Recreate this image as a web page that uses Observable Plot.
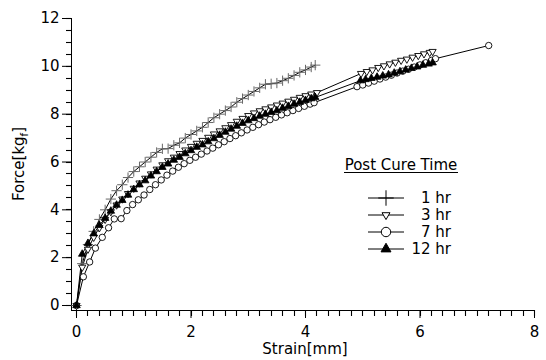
<!DOCTYPE html>
<html><head><meta charset="utf-8">
<script src="https://cdn.jsdelivr.net/npm/d3@7"></script>
<script src="https://cdn.jsdelivr.net/npm/@observablehq/plot@0.6"></script>
<style>body{margin:0;background:#fff}</style>
</head><body><div id="chart"></div>
<script>
const seriesNames = ["1 hr", "3 hr", "7 hr", "12 hr"];
const legendTitle = "Post Cure Time";
const xLabel = "Strain[mm]";
const xTicks = [0, 2, 4, 6, 8];
const yTicks = [0, 2, 4, 6, 8, 10, 12];

const strain1hr = [0,0.1,0.2,0.3,0.4,0.5,0.6,0.7,0.8,0.9,1.0,1.1,1.2,1.3,1.4,1.5,1.6,1.7,1.8,1.9,2.0,2.1,2.2,2.3,2.4,2.5,2.6,2.7,2.8,2.9,3.0,3.1,3.2,3.3,3.4,3.5,3.6,3.7,3.8,3.9,4.0,4.1,4.17];
const force1hr  = [0,1.75,2.55,3.1,3.6,4.0,4.45,4.8,5.05,5.35,5.6,5.8,6.0,6.2,6.4,6.55,6.56,6.7,6.8,7.0,7.15,7.3,7.45,7.65,7.85,8.0,8.15,8.3,8.5,8.65,8.8,8.95,9.1,9.25,9.27,9.3,9.4,9.5,9.62,9.75,9.85,9.97,10.05];

const strain3hr = [0,0.1,0.2,0.3,0.4,0.5,0.6,0.7,0.8,0.9,1.0,1.1,1.2,1.3,1.4,1.5,1.6,1.7,1.8,1.9,2.0,2.1,2.2,2.3,2.4,2.5,2.6,2.7,2.8,2.9,3.0,3.1,3.2,3.3,3.4,3.5,3.6,3.7,3.8,3.9,4.0,4.1,4.2,
  4.97,5.07,5.17,5.27,5.37,5.47,5.57,5.67,5.77,5.87,5.97,6.07,6.17,6.22];
const force3hr  = [0,1.6,2.35,2.85,3.25,3.6,3.92,4.2,4.45,4.68,4.9,5.12,5.32,5.5,5.7,5.88,6.05,6.2,6.35,6.5,6.65,6.78,6.9,7.03,7.17,7.3,7.43,7.56,7.7,7.82,7.94,8.05,8.14,8.22,8.3,8.38,8.46,8.54,8.62,8.7,8.77,8.84,8.9,
  9.7,9.78,9.85,9.95,10.02,10.1,10.17,10.25,10.3,10.38,10.45,10.52,10.58,10.62];

const strain7hr = [0,0.12,0.23,0.33,0.45,0.56,0.66,0.78,0.88,0.98,1.08,1.18,1.28,1.38,1.48,1.58,1.68,1.78,1.88,1.98,2.08,2.18,2.28,2.38,2.48,2.58,2.68,2.78,2.88,2.98,3.08,3.18,3.28,3.38,3.48,3.58,3.68,3.78,3.88,3.98,4.08,4.15,
  4.9,5.0,5.1,5.2,5.3,5.4,5.5,5.6,5.7,5.8,5.9,6.0,6.1,6.2,6.27,7.2];
const force7hr  = [0,1.2,1.82,2.4,2.85,3.25,3.62,3.63,3.97,4.22,4.42,4.62,4.85,5.05,5.25,5.45,5.62,5.78,5.93,6.07,6.2,6.33,6.46,6.58,6.72,6.85,6.98,7.1,7.22,7.34,7.45,7.56,7.67,7.77,7.87,7.97,8.06,8.15,8.24,8.33,8.42,8.48,
  9.15,9.22,9.3,9.38,9.47,9.55,9.63,9.72,9.8,9.88,9.97,10.06,10.15,10.25,10.32,10.87];

const strain12hr = [0,0.1,0.2,0.3,0.4,0.5,0.6,0.7,0.8,0.9,1.0,1.1,1.2,1.3,1.4,1.5,1.6,1.7,1.8,1.9,2.0,2.1,2.2,2.3,2.4,2.5,2.6,2.7,2.8,2.9,3.0,3.1,3.2,3.3,3.4,3.5,3.6,3.7,3.8,3.9,4.0,4.1,4.17,
  4.96,5.05,5.15,5.25,5.35,5.45,5.55,5.65,5.75,5.85,5.95,6.05,6.15,6.22];
const force12hr  = [0,2.15,2.6,3.0,3.35,3.65,3.95,4.2,4.4,4.62,4.85,5.05,5.22,5.42,5.6,5.78,5.92,6.08,6.2,6.35,6.48,6.62,6.72,6.85,6.98,7.12,7.25,7.38,7.5,7.62,7.73,7.82,7.92,8.0,8.08,8.15,8.25,8.33,8.42,8.5,8.58,8.65,8.7,
  9.4,9.45,9.5,9.55,9.6,9.65,9.72,9.78,9.85,9.92,9.98,10.05,10.1,10.15];

function rowsOf(name, xs, ys) { return xs.map((x, i) => ({series: name, strain: x, force: ys[i]})); }
const d1 = rowsOf(seriesNames[0], strain1hr, force1hr);
const d3h = rowsOf(seriesNames[1], strain3hr, force3hr);
const d7 = rowsOf(seriesNames[2], strain7hr, force7hr);
const d12 = rowsOf(seriesNames[3], strain12hr, force12hr);
const all = [...d1, ...d3h, ...d7, ...d12];

const triangleDown = {
  draw(ctx, size) {
    const r = Math.sqrt(size - Math.min(size / 6, 1.7)) * 0.6824;
    const t = r / 2, u = r * Math.sqrt(3) / 2;
    ctx.moveTo(0, r); ctx.lineTo(u, -t); ctx.lineTo(-u, -t); ctx.closePath();
  }
};

const FONT = "DejaVu Sans";
const xMinor = [];
for (let i = 0; i <= 40; i++) xMinor.push(i / 5);
const yMinor = [];
for (let i = 0; i <= 24; i++) yMinor.push(i / 2);

const chart = Plot.plot({
  width: 546, height: 360,
  marginLeft: 71, marginRight: 12, marginTop: 18, marginBottom: 50,
  style: {fontFamily: FONT, fontSize: "15px", background: "white", color: "black"},
  x: {domain: [0, 8], insetLeft: 5},
  y: {domain: [0, 12], insetBottom: 5},
  marks: [
    Plot.frame({anchor: "left", stroke: "black"}),
    Plot.frame({anchor: "bottom", stroke: "black"}),
    Plot.axisX(xTicks, {anchor: "bottom", tickSize: 8, tickPadding: 8, label: null}),
    Plot.axisY(yTicks, {anchor: "left", tickSize: 9, tickPadding: 3, label: null}),
    Plot.line(all, {x: "strain", y: "force", z: "series", stroke: "black", strokeWidth: 1}),
    Plot.dot(d1, {x: "strain", y: "force", symbol: "plus", r: 3.4, stroke: "#666", strokeWidth: 1}),
    Plot.dot(d7, {x: "strain", y: "force", symbol: "circle", r: 3.2, stroke: "black", fill: "white", strokeWidth: 0.9}),
    Plot.dot(d3h, {x: "strain", y: "force", symbol: triangleDown, r: 3.5, stroke: "black", fill: "white", strokeWidth: 0.9}),
    Plot.dot(d12, {x: "strain", y: "force", symbol: "triangle", r: 2.8, stroke: "black", fill: "black", strokeWidth: 0.8})
  ]
});
document.getElementById("chart").appendChild(chart);

const sx = chart.scale("x"), sy = chart.scale("y");
const svg = d3.select(chart);
// minor ticks placed with Plot's own scales
const axisX0 = 310, axisY0 = 71;
const tk = svg.append("g");
xMinor.forEach(v => { const px = Math.round(sx.apply(v)) + 0.5; tk.append("line").attr("x1", px).attr("x2", px).attr("y1", axisX0).attr("y2", axisX0 + 6).style("stroke", "#000").style("stroke-width", "1.1px"); });
yMinor.forEach(v => { const py = Math.round(sy.apply(v)) + 0.5; tk.append("line").attr("y1", py).attr("y2", py).attr("x1", axisY0 - 5).attr("x2", axisY0).style("stroke", "#000").style("stroke-width", "1.1px"); });

const g = svg.append("g").attr("font-family", FONT).attr("font-size", 15).attr("fill", "black");
g.append("text").attr("x", 305).attr("y", 349).attr("dy", "0.35em").attr("text-anchor", "middle").text(xLabel);
const yl = g.append("text").attr("transform", "translate(19,164) rotate(-90)").attr("text-anchor", "middle").attr("dy", "0.35em");
yl.append("tspan").text("Force[kg");
yl.append("tspan").attr("font-size", 10).attr("dy", 4).text("f");
yl.append("tspan").attr("dy", -4).text("]");
g.append("text").attr("x", 401).attr("y", 165).attr("dy", "0.35em").attr("text-anchor", "middle").text(legendTitle);
g.append("line").attr("x1", 344).attr("x2", 458).attr("y1", 172.5).attr("y2", 172.5).style("stroke", "black");
const legendSym = [
  {type: d3.symbolPlus, size: 80, fill: "none"},
  {type: triangleDown, size: 47, fill: "white"},
  {type: d3.symbolCircle, size: 70, fill: "white"},
  {type: d3.symbolTriangle, size: 43, fill: "black"}
];
seriesNames.forEach((name, i) => {
  const y = 198 + i * 17;
  g.append("line").attr("x1", 368).attr("x2", 404).attr("y1", y).attr("y2", y).style("stroke", "black");
  g.append("path").attr("transform", `translate(386,${y})`).attr("d", d3.symbol(legendSym[i].type, legendSym[i].size)())
    .style("fill", legendSym[i].fill).style("stroke", "black");
  g.append("text").attr("x", 451).attr("y", y).attr("dy", "0.35em").attr("text-anchor", "end").text(name);
});
</script></body></html>
